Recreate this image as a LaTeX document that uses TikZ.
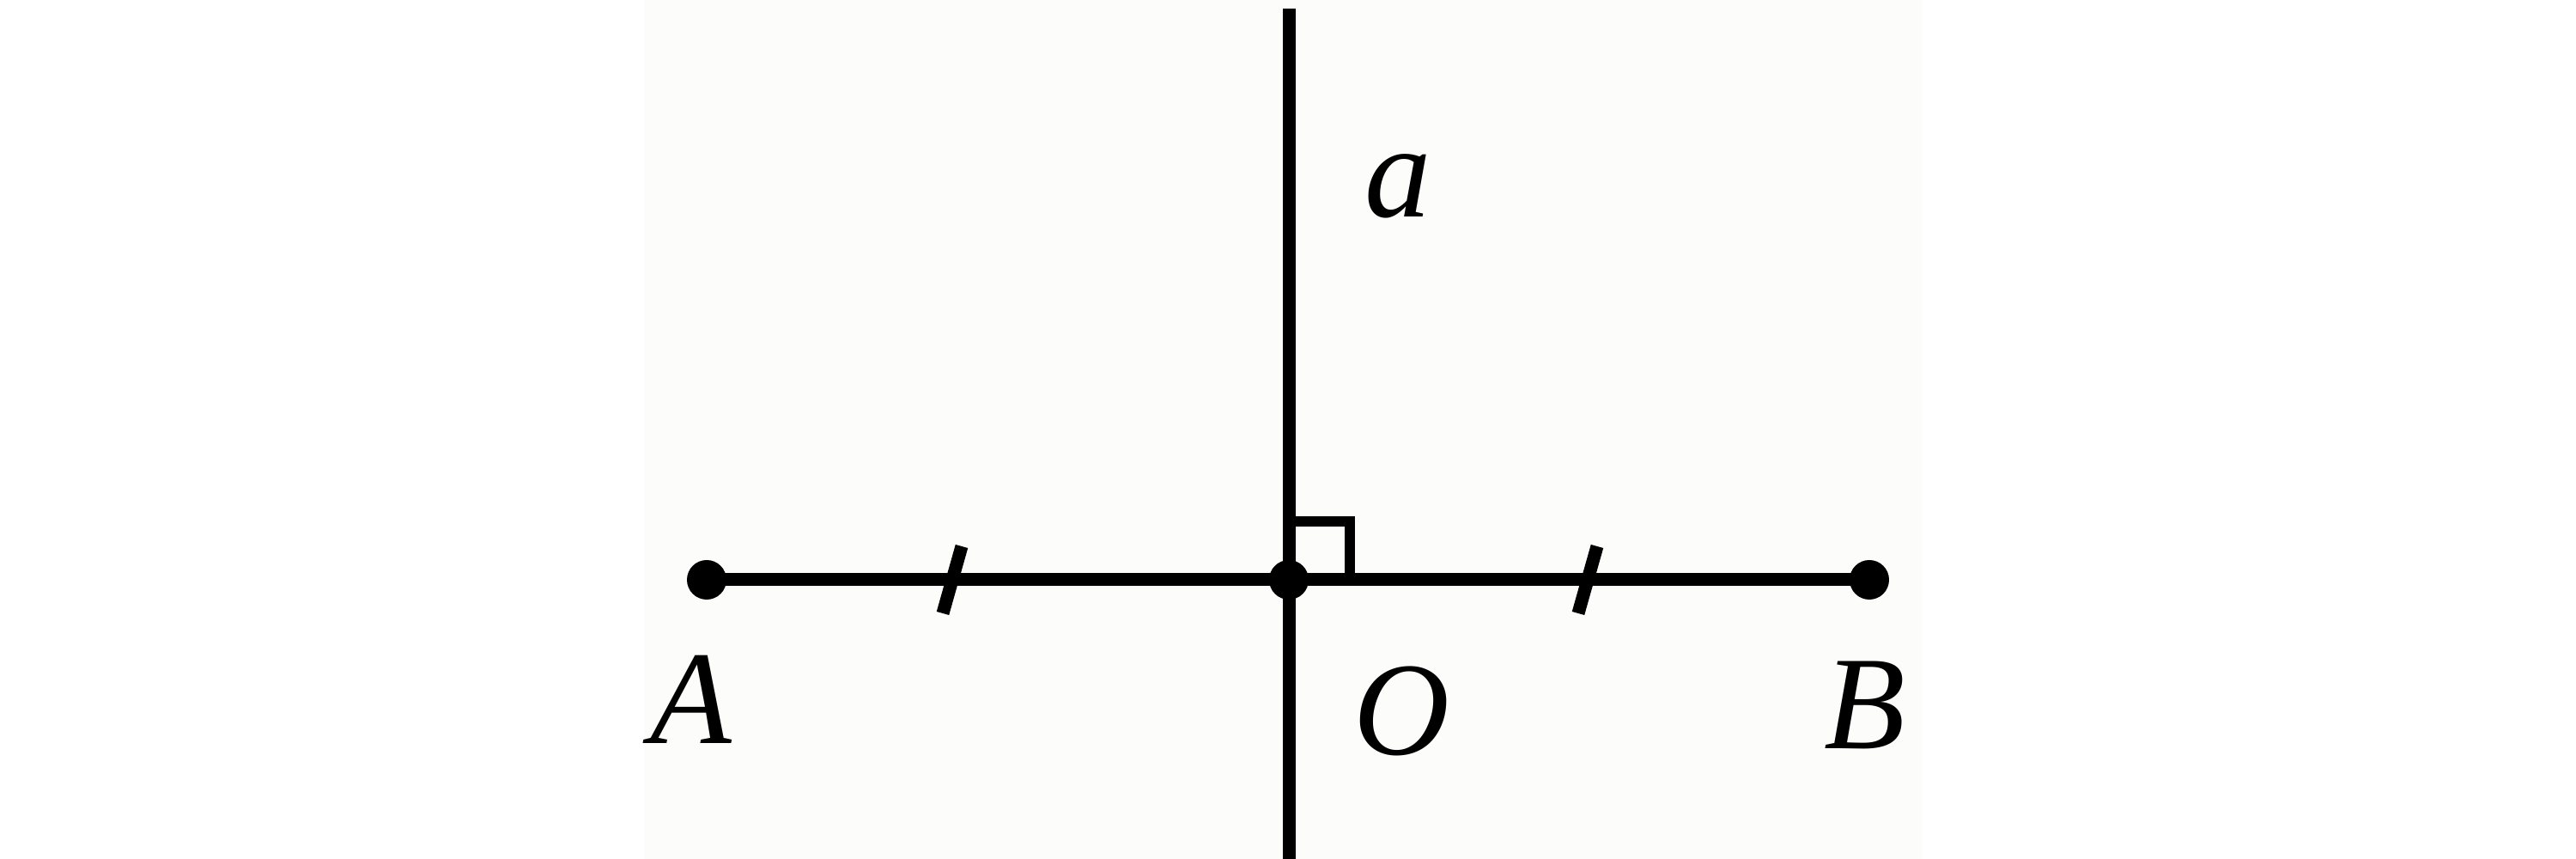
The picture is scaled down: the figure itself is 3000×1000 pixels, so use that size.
\documentclass[tikz,border=0pt]{standalone}
\usepackage{fontspec}
\setmainfont{Liberation Serif}
\definecolor{paper}{RGB}{252,252,250}
\begin{document}
\begin{tikzpicture}[x=0.1pt,y=-0.1pt,
  seg/.style={line width=1.5pt,black},
  tickline/.style={line width=1.5pt,black},
  sq/.style={line width=1.2pt,black},
  dot/.style={circle,fill=black,inner sep=0pt,minimum size=4.6pt},
  lbl/.style={inner sep=0pt,font=\fontsize{15.5}{18}\selectfont\itshape}]
\useasboundingbox (0,0) rectangle (3000,1000);
\fill[paper] (750,0) rectangle (2238,1000);
% points
\coordinate (Ap) at (823,675);
\coordinate (Op) at (1501,675);
\coordinate (Bp) at (2177,675);
\coordinate (top) at (1501,10);
\coordinate (bot) at (1501,1000);
% lines
\draw[seg] (Ap) -- (Bp);
\draw[seg] (top) -- (bot);
% right angle
\draw[sq] (1501,607) -- (1572,607) -- (1572,675);
% ticks
\coordinate (t1) at (1109,675);
\coordinate (t2) at (1849,675);
\draw[tickline] ([shift={(-11,39)}]t1) -- ([shift={(11,-39)}]t1);
\draw[tickline] ([shift={(-11,39)}]t2) -- ([shift={(11,-39)}]t2);
% dots
\node[dot] (A) at (Ap) {};
\node[dot] (O) at (Op) {};
\node[dot] (B) at (Bp) {};
% labels
\node[lbl] (la) at (1628,217) {a};
\node[lbl] (lA) at (805,814) {A};
\node[lbl] (lO) at (1632,828) {O};
\node[lbl] (lB) at (2172,821) {B};
\end{tikzpicture}
\end{document}
